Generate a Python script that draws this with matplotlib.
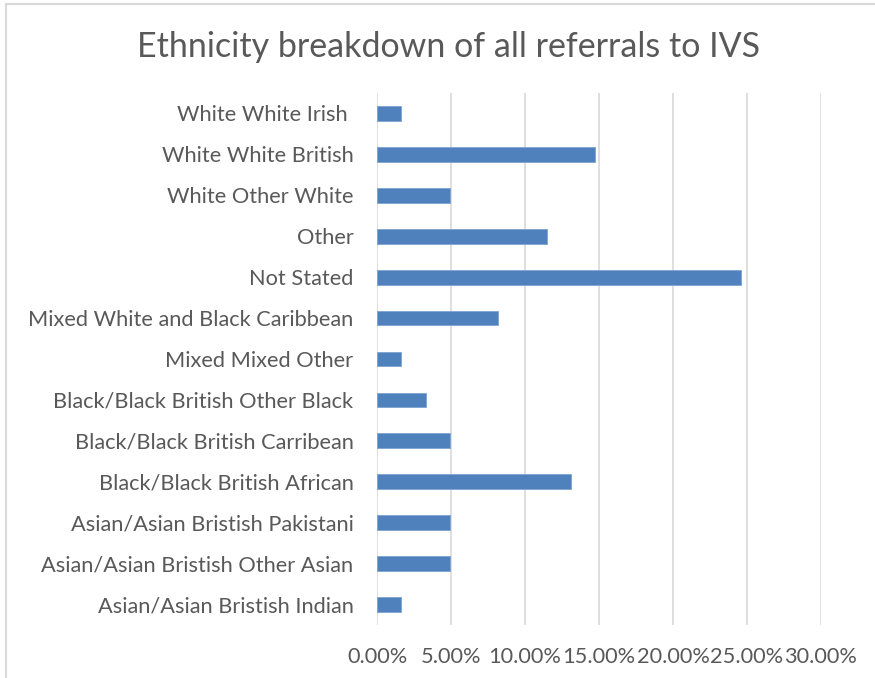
import matplotlib.pyplot as plt
from matplotlib.lines import Line2D
from matplotlib.ticker import FuncFormatter

plt.rcParams['font.family'] = ['Lato', 'DejaVu Sans']

categories = [
    "Asian/Asian Bristish Indian",
    "Asian/Asian Bristish Other Asian",
    "Asian/Asian Bristish Pakistani",
    "Black/Black British African",
    "Black/Black British Carribean",
    "Black/Black British Other Black",
    "Mixed Mixed Other",
    "Mixed White and Black Caribbean",
    "Not Stated",
    "Other",
    "White Other White",
    "White White British",
    "White White Irish ",
]
shares = [0.0164, 0.0492, 0.0492, 0.1311, 0.0492, 0.0328, 0.0164,
          0.0820, 0.2459, 0.1148, 0.0492, 0.1475, 0.0164]
x_ticks = [0.0, 0.05, 0.10, 0.15, 0.20, 0.25, 0.30]
title = "Ethnicity breakdown of all referrals to IVS"

text_color = "#595959"
bar_color = "#4F81BD"
grid_color = "#D9D9D9"

fig = plt.figure(figsize=(8.75, 6.78), dpi=100)
ax = fig.add_axes([0.4309, 0.0782, 0.5074, 0.7846])

ypos = list(range(len(categories)))
ax.barh(ypos, shares, height=0.36, color=bar_color,
        edgecolor="#7EA3D3", linewidth=0.6, zorder=3)

ax.set_xlim(0, 0.30)
ax.set_ylim(-0.5, len(categories) - 0.5)
ax.set_xticks(x_ticks)
ax.xaxis.set_major_formatter(FuncFormatter(lambda v, p: f"{v * 100:.2f}%"))
ax.set_yticks(ypos)
ax.set_yticklabels(categories)

ax.grid(axis="x", color=grid_color, linewidth=1.2, zorder=0)
ax.tick_params(axis="both", length=0, labelsize=15.7, colors=text_color)
ax.tick_params(axis="x", pad=16)
ax.tick_params(axis="y", pad=17)
for s in ax.spines.values():
    s.set_visible(False)

fig.text(0.513, 0.930, title, ha="center", va="center",
         fontsize=24.5, color=text_color)

# chart-area border (top and left edges)
fig.add_artist(Line2D([6 / 875, 1.0], [1 - 4 / 678, 1 - 4 / 678],
                      transform=fig.transFigure, color="#D9D9D9", linewidth=1.5))
fig.add_artist(Line2D([6 / 875, 6 / 875], [0.0, 1 - 4 / 678],
                      transform=fig.transFigure, color="#D9D9D9", linewidth=1.5))

fig.savefig("out.png", dpi=100, facecolor="white")
